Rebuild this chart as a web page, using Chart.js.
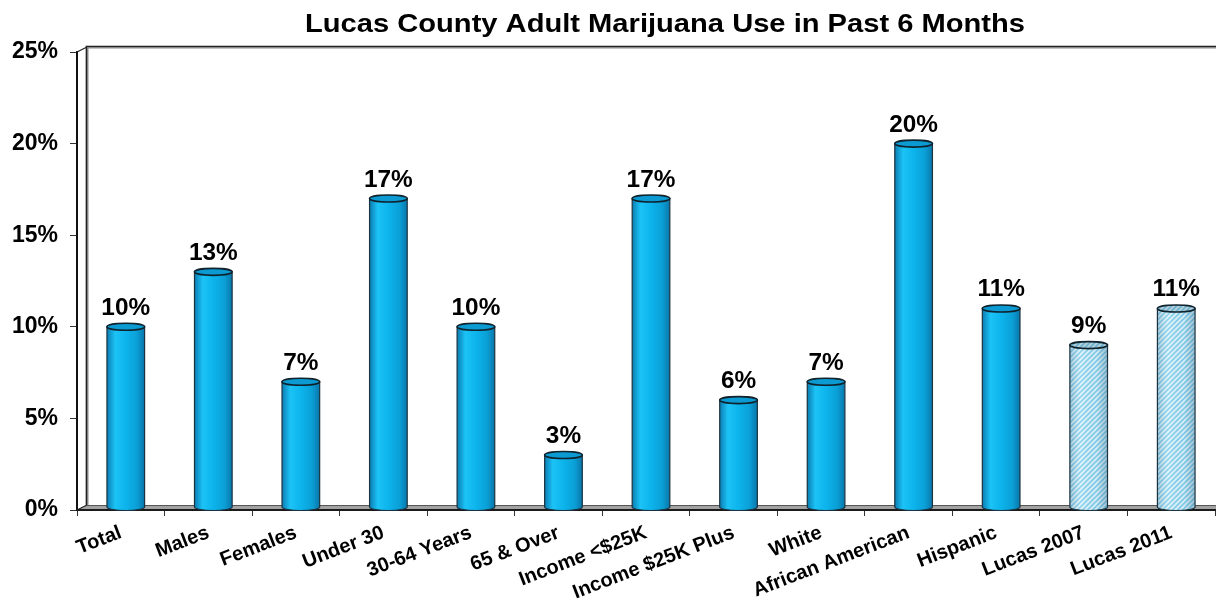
<!DOCTYPE html>
<html>
<head>
<meta charset="utf-8">
<title>Lucas County Adult Marijuana Use in Past 6 Months</title>
<script src="https://cdn.jsdelivr.net/npm/chart.js@4/dist/chart.umd.min.js"></script>
<style>
  html, body { margin: 0; padding: 0; background: #ffffff; }
  #wrap { width: 1216px; height: 600px; }
</style>
</head>
<body>
<div id="wrap"><canvas id="chart" width="1216" height="600"></canvas></div>
<script>
// Groups surveyed
const categories = [
  'Total', 'Males', 'Females', 'Under 30', '30-64 Years', '65 & Over',
  'Income <$25K', 'Income $25K Plus', 'White', 'African American',
  'Hispanic', 'Lucas 2007', 'Lucas 2011'
];
// Percent who used marijuana in the past 6 months
const usePercent = [10, 13, 7, 17, 10, 3, 17, 6, 7, 20, 11, 9, 11];
// Which bars are the county-wide trend bars (drawn hatched)
const trendBars = [false, false, false, false, false, false, false, false, false, false, false, true, true];
// Value axis
const yTicks = [0, 5, 10, 15, 20, 25];

const TITLE = 'Lucas County Adult Marijuana Use in Past 6 Months';
const FONT = '"Liberation Sans", Arial, sans-serif';
const DEPTH_X = 10, DEPTH_Y = 5;   // 3-D wall depth

function hatchPattern(ctx) {
  const c = document.createElement('canvas');
  c.width = 5; c.height = 5;
  const g = c.getContext('2d');
  g.fillStyle = '#86cfec';
  g.fillRect(0, 0, 5, 5);
  g.strokeStyle = '#e2f6fd';
  g.lineWidth = 1.6;
  g.beginPath();
  g.moveTo(-1, 6); g.lineTo(6, -1);
  g.moveTo(-3, 3); g.lineTo(3, -3);
  g.moveTo(2, 8); g.lineTo(8, 2);
  g.stroke();
  return ctx.createPattern(c, 'repeat');
}

// Text with a slight horizontal stretch
function wideText(ctx, text, x, y, sx) {
  ctx.save();
  ctx.translate(x, y);
  ctx.scale(sx, 1);
  ctx.fillText(text, 0, 0);
  ctx.restore();
}

// 3-D walls, floor and title
const framePlugin = {
  id: 'frame3d',
  beforeDatasetsDraw(chart) {
    const { ctx, chartArea: a } = chart;
    ctx.save();
    // floor
    ctx.beginPath();
    ctx.moveTo(a.left, a.bottom);
    ctx.lineTo(a.left + DEPTH_X, a.bottom - DEPTH_Y);
    ctx.lineTo(chart.width, a.bottom - DEPTH_Y);
    ctx.lineTo(chart.width, a.bottom);
    ctx.closePath();
    ctx.fillStyle = '#a3a3a3';
    ctx.fill();
    ctx.strokeStyle = '#555555';
    ctx.lineWidth = 1;
    ctx.beginPath();
    ctx.moveTo(a.left + DEPTH_X, a.bottom - DEPTH_Y + 0.5);
    ctx.lineTo(chart.width, a.bottom - DEPTH_Y + 0.5);
    ctx.stroke();
    // back wall edges
    ctx.strokeStyle = '#8a8a8a';
    ctx.lineWidth = 3;
    ctx.beginPath();
    ctx.moveTo(a.left + DEPTH_X, a.bottom - DEPTH_Y);
    ctx.lineTo(a.left + DEPTH_X, a.top - DEPTH_Y);
    ctx.lineTo(chart.width, a.top - DEPTH_Y);
    ctx.stroke();
    ctx.strokeStyle = '#222222';
    ctx.lineWidth = 1.2;
    ctx.beginPath();
    ctx.moveTo(a.left + DEPTH_X - 0.5, a.bottom - DEPTH_Y);
    ctx.lineTo(a.left + DEPTH_X - 0.5, a.top - DEPTH_Y - 0.5);
    ctx.lineTo(chart.width, a.top - DEPTH_Y - 0.5);
    ctx.moveTo(a.left, a.top);
    ctx.lineTo(a.left + DEPTH_X, a.top - DEPTH_Y);
    ctx.moveTo(a.left, a.bottom);
    ctx.lineTo(a.left + DEPTH_X, a.bottom - DEPTH_Y);
    ctx.stroke();
    // front floor edge
    ctx.strokeStyle = '#1a1a1a';
    ctx.lineWidth = 2;
    ctx.beginPath();
    ctx.moveTo(a.left, a.bottom);
    ctx.lineTo(chart.width, a.bottom);
    ctx.stroke();
    ctx.restore();
  },
  afterDraw(chart) {
    const { ctx } = chart;
    ctx.save();
    ctx.fillStyle = '#000000';
    ctx.font = 'bold 26px ' + FONT;
    ctx.textAlign = 'center';
    ctx.textBaseline = 'alphabetic';
    wideText(ctx, TITLE, 665, 32, 1.12);
    ctx.restore();
  }
};

// Cylinder bars with value labels, drawn on the library's bar geometry
const cylinderPlugin = {
  id: 'cylinders',
  afterDatasetsDraw(chart) {
    const { ctx } = chart;
    const meta = chart.getDatasetMeta(0);
    const pattern = hatchPattern(ctx);
    meta.data.forEach((bar, i) => {
      const p = bar.getProps(['x', 'y', 'base', 'width'], true);
      const cx = p.x + DEPTH_X / 2;
      const w = p.width;
      const rx = w / 2, ry = 3.5;
      const top = p.y;
      const base = p.base - DEPTH_Y / 2;
      const left = cx - rx, right = cx + rx;
      ctx.save();
      // body
      ctx.beginPath();
      ctx.moveTo(left, top);
      ctx.lineTo(left, base);
      ctx.ellipse(cx, base, rx, ry, 0, Math.PI, 0, true);
      ctx.lineTo(right, top);
      ctx.closePath();
      if (trendBars[i]) {
        ctx.fillStyle = pattern;
        ctx.fill();
        const sh = ctx.createLinearGradient(left, 0, right, 0);
        sh.addColorStop(0, 'rgba(40,90,120,0.30)');
        sh.addColorStop(0.3, 'rgba(255,255,255,0.12)');
        sh.addColorStop(0.7, 'rgba(40,90,120,0.04)');
        sh.addColorStop(1, 'rgba(40,90,120,0.35)');
        ctx.fillStyle = sh;
        ctx.fill();
      } else {
        const g = ctx.createLinearGradient(left, 0, right, 0);
        g.addColorStop(0, '#0a7db3');
        g.addColorStop(0.22, '#1cc3f6');
        g.addColorStop(0.5, '#0db4ec');
        g.addColorStop(0.8, '#0a9fd6');
        g.addColorStop(1, '#0a76aa');
        ctx.fillStyle = g;
        ctx.fill();
      }
      ctx.strokeStyle = '#1b3340';
      ctx.lineWidth = 1.2;
      ctx.stroke();
      // top cap
      ctx.beginPath();
      ctx.ellipse(cx, top, rx, ry, 0, 0, Math.PI * 2);
      if (trendBars[i]) {
        ctx.fillStyle = pattern;
        ctx.fill();
        ctx.fillStyle = 'rgba(30,80,110,0.22)';
        ctx.fill();
      } else {
        ctx.fillStyle = '#0b9ad2';
        ctx.fill();
      }
      ctx.strokeStyle = '#10232d';
      ctx.lineWidth = 1.6;
      ctx.stroke();
      // value label
      ctx.fillStyle = '#000000';
      ctx.font = 'bold 23px ' + FONT;
      ctx.textAlign = 'center';
      ctx.textBaseline = 'alphabetic';
      wideText(ctx, usePercent[i] + '%', cx, top - 12, 1.06);
      ctx.restore();
    });
  }
};

new Chart(document.getElementById('chart'), {
  type: 'bar',
  data: {
    labels: categories,
    datasets: [{
      data: usePercent,
      backgroundColor: 'rgba(0,0,0,0)',
      borderWidth: 0,
      categoryPercentage: 1,
      barPercentage: 0.43
    }]
  },
  options: {
    responsive: false,
    devicePixelRatio: 1,
    animation: false,
    layout: { padding: { top: 52, right: 1, left: 0, bottom: 0 } },
    plugins: {
      legend: { display: false },
      title: { display: false },
      tooltip: { enabled: false }
    },
    scales: {
      x: {
        afterFit(scale) { scale.height = 90; },
        grid: {
          display: true, drawOnChartArea: false, offset: true,
          tickLength: 6, color: '#333333', lineWidth: 1
        },
        border: { display: false },
        ticks: {
          color: '#000000',
          font: { family: FONT, size: 20, weight: 'bold' },
          minRotation: 21, maxRotation: 21,
          autoSkip: false, padding: 5
        }
      },
      y: {
        min: yTicks[0],
        max: yTicks[yTicks.length - 1],
        afterFit(scale) { scale.width = 77; },
        afterBuildTicks(scale) { scale.ticks = yTicks.map(v => ({ value: v })); },
        grid: {
          display: true, drawOnChartArea: false,
          tickLength: 7, color: '#333333', lineWidth: 1
        },
        border: { display: true, color: '#111111', width: 2 },
        ticks: {
          color: '#000000',
          font: { family: FONT, size: 23, weight: 'bold' },
          padding: 12,
          callback: v => v + '%'
        }
      }
    }
  },
  plugins: [framePlugin, cylinderPlugin]
});
</script>
</body>
</html>
